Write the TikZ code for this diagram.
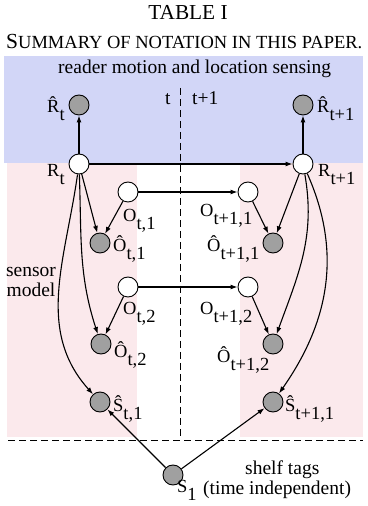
\documentclass[tikz,border=0pt]{standalone}
\usepackage{fontspec}
\setmainfont{Liberation Serif}
\usetikzlibrary{arrows.meta}
\definecolor{bluebg}{RGB}{210,214,247}
\definecolor{pinkbg}{RGB}{251,233,236}
\definecolor{nodegray}{RGB}{160,160,160}
\newcommand{\sbs}[1]{\raisebox{-8pt}{#1}}
\newcommand{\bigc}[1]{{\fontsize{21.5}{24}\selectfont #1}}
\newcommand{\smc}[1]{{\fontsize{18.5}{20}\selectfont #1}}
\begin{document}
\begin{tikzpicture}[x=1pt,y=1pt,
  open/.style={circle,draw,fill=white,minimum size=20pt,inner sep=0pt,line width=0.9pt},
  obs/.style={open,fill=nodegray},
  lbl/.style={inner sep=0pt,anchor=base west,font=\fontsize{18.5}{22}\selectfont},
  txt/.style={inner sep=0pt,anchor=base west,font=\fontsize{19.5}{22}\selectfont},
  arr/.style={-{Latex[length=7pt,width=5pt]},line width=1.1pt},
  dsh/.style={line width=1pt,dash pattern=on 7pt off 4pt}]
\useasboundingbox (0,0) rectangle (367,506);
% backgrounds
\fill[bluebg] (4,343) rectangle (363,450);
\fill[pinkbg] (7,69) rectangle (137,343);
\fill[pinkbg] (240,69) rectangle (363,343);
% dashed lines
\coordinate (vt) at (180,418);
\coordinate (vb) at (180,68);
\coordinate (hl) at (8,65);
\coordinate (hr) at (363,65);
\draw[dsh] (vt) -- (vb);
\draw[dsh] (hl) -- (hr);
% titles
\node[inner sep=0pt,anchor=base,font=\fontsize{21.3}{24}\selectfont] (title) at (188,486.5) {TABLE I};
\node[inner sep=0pt,anchor=base west] (caption) at (6,457) {\bigc{S}\smc{UMMARY OF NOTATION IN THIS PAPER.}};
\node[txt] (reader) at (58,432) {reader motion and location sensing};
\node[txt] (tlab) at (165,401) {t};
\node[txt] (t1lab) at (192,401) {t+1};
\node[txt,anchor=base] (sensor) at (31,229) {sensor};
\node[txt,anchor=base] (model) at (31,209) {model};
\node[txt] (shelf) at (245,31) {shelf tags};
\node[txt] (indep) at (203,11) {(time independent)};
% nodes
\node[obs] (Rh0) at (79,401) {};
\node[obs] (Rh1) at (303,401) {};
\node[open] (R0) at (79,342) {};
\node[open] (R1) at (303,342) {};
\node[open] (O01) at (128,314) {};
\node[open] (O11) at (248,314) {};
\node[obs] (Oh01) at (100,263) {};
\node[obs] (Oh11) at (273,263) {};
\node[open] (O02) at (128,219) {};
\node[open] (O12) at (248,219) {};
\node[obs] (Oh02) at (101,162) {};
\node[obs] (Oh12) at (273,162) {};
\node[obs] (Sh0) at (100,104) {};
\node[obs] (Sh1) at (273,104) {};
\node[obs] (S1) at (173,31) {};
% labels
\node[lbl] (lRh0) at (47,393) {R̂\sbs{t}};
\node[lbl] (lRh1) at (317,393) {R̂\sbs{t+1}};
\node[lbl] (lR0) at (47,329) {R\sbs{t}};
\node[lbl] (lR1) at (318,329) {R\sbs{t+1}};
\node[lbl] (lO01) at (123,284) {O\sbs{t,1}};
\node[lbl] (lOh01) at (113,254) {Ô\sbs{t,1}};
\node[lbl] (lO11) at (200,289) {O\sbs{t+1,1}};
\node[lbl] (lOh11) at (207,254) {Ô\sbs{t+1,1}};
\node[lbl] (lO02) at (123,191) {O\sbs{t,2}};
\node[lbl] (lO12) at (200,191) {O\sbs{t+1,2}};
\node[lbl] (lOh02) at (114,148) {Ô\sbs{t,2}};
\node[lbl] (lOh12) at (217,143) {Ô\sbs{t+1,2}};
\node[lbl] (lSh0) at (113,94) {Ŝ\sbs{t,1}};
\node[lbl] (lSh1) at (285,94) {Ŝ\sbs{t+1,1}};
\node[lbl] (lS1) at (177,13) {S\sbs{1}};
% edges
\draw[arr] (R0) -- (Rh0);
\draw[arr] (R1) -- (Rh1);
\draw[arr] (R0) -- (R1);
\draw[arr] (O01) -- (O11);
\draw[arr] (O02) -- (O12);
\draw[arr] (R0) to[out=-75,in=105] (Oh01);
\draw[arr] (O01) -- (Oh01);
\draw[arr] (R0) to[out=-88,in=108] (Oh02);
\draw[arr] (O02) -- (Oh02);
\draw[arr] (R0) to[out=-98,in=132] (Sh0);
\draw[arr] (R1) -- (Oh11);
\draw[arr] (O11) -- (Oh11);
\draw[arr] (R1) to[out=-80,in=70] (Oh12);
\draw[arr] (O12) -- (Oh12);
\draw[arr] (R1) to[out=-66,in=55] (Sh1);
\draw[arr] (S1) -- (Sh0);
\draw[arr] (S1) -- (Sh1);
\end{tikzpicture}
\end{document}
